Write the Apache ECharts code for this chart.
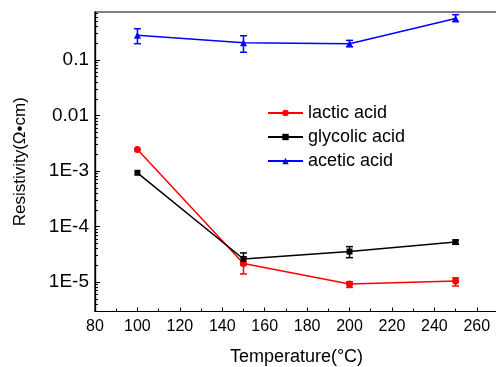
<!DOCTYPE html>
<html>
<head>
<meta charset="utf-8">
<script src="https://cdn.jsdelivr.net/npm/echarts@6/dist/echarts.min.js"></script>
<style>
  html, body { margin: 0; padding: 0; background: #fff; }
  #chart { width: 496px; height: 367px; }
</style>
</head>
<body>
<div id="chart"></div>
<script>
// temperatures (°C)
const temps = [100, 150, 200, 250]
const xTicks = [80, 100, 120, 140, 160, 180, 200, 220, 240, 260]
const xMinor = [90, 110, 130, 150, 170, 190, 210, 230, 250]

// resistivity (Ω·cm) and error bar ends
const lactic = [2.45e-3, 2.17e-5, 9.2e-6, 1.05e-5]
const lacticLow = [null, 1.4e-5, 8.0e-6, 8.5e-6]
const lacticHigh = [null, 2.85e-5, 1.01e-5, 1.19e-5]

const glycolic = [9.3e-4, 2.6e-5, 3.55e-5, 5.25e-5]
const glycolicLow = [null, 2.05e-5, 2.75e-5, 4.8e-5]
const glycolicHigh = [null, 3.35e-5, 4.35e-5, 5.7e-5]

const acetic = [0.28, 0.205, 0.197, 0.56]
const aceticLow = [0.197, 0.138, 0.174, 0.49]
const aceticHigh = [0.366, 0.274, 0.226, 0.655]

const yMajor = [1e-5, 1e-4, 1e-3, 0.01, 0.1]
const yLabels = ['1E-5', '1E-4', '1E-3', '0.01', '0.1']

// log minor ticks 2..9 x 10^k
const yMinor = []
for (let k = -6; k <= -1; k++) {
  for (let m = 2; m <= 9; m++) {
    const v = Number((m * Math.pow(10, k)).toPrecision(3))
    if (v > 2.95e-6 && v < 0.733) yMinor.push(v)
  }
}

const FONT = 'Liberation Sans'
const Y_MIN = 2.95e-6
const Y_MAX = 0.733

function pts(vals) {
  return temps.map((t, i) => [t, vals[i]])
}

function errData(low, high) {
  const out = []
  temps.forEach((t, i) => {
    if (low[i] != null) out.push([t, low[i], high[i]])
  })
  return out
}

function errSeries(low, high, color) {
  return {
    type: 'custom',
    z: 3,
    silent: true,
    data: errData(low, high),
    encode: { x: 0, y: [1, 2] },
    renderItem(params, api) {
      const lo = api.coord([api.value(0), api.value(1)])
      const hi = api.coord([api.value(0), api.value(2)])
      const w = 3.5
      const style = { stroke: color, lineWidth: 1.5 }
      return {
        type: 'group',
        children: [
          { type: 'line', shape: { x1: lo[0], y1: lo[1], x2: hi[0], y2: hi[1] }, style },
          { type: 'line', shape: { x1: lo[0] - w, y1: lo[1], x2: lo[0] + w, y2: lo[1] }, style },
          { type: 'line', shape: { x1: hi[0] - w, y1: hi[1], x2: hi[0] + w, y2: hi[1] }, style },
        ],
      }
    },
  }
}

const chart = echarts.init(document.getElementById('chart'))

const axisBlack = { lineStyle: { color: '#000', width: 1.2 } }

const option = {
  animation: false,
  textStyle: { fontFamily: FONT },
  grid: {
    left: 95,
    top: 12,
    width: 403,
    height: 299.5,
    outerBoundsMode: 'none',
    containLabel: false,
    show: true,
    borderColor: '#000',
    borderWidth: 1.2,
  },
  legend: {
    orient: 'vertical',
    left: 267,
    top: 104,
    padding: 0,
    itemWidth: 35,
    itemHeight: 8,
    itemGap: 6,
    textStyle: { fontFamily: FONT, fontSize: 18, color: '#000' },
    data: ['lactic acid', 'glycolic acid', 'acetic acid'],
  },
  xAxis: [
    {
      type: 'value',
      min: 80,
      max: 270,
      name: 'Temperature(°C)',
      nameLocation: 'middle',
      nameGap: 37,
      nameTextStyle: { fontFamily: FONT, fontSize: 18, color: '#000' },
      axisLine: axisBlack,
      axisTick: { inside: true, length: 4, customValues: xTicks, lineStyle: { color: '#000' } },
      axisLabel: {
        fontFamily: FONT,
        fontSize: 16,
        color: '#000',
        margin: 7,
        customValues: xTicks,
      },
      splitLine: { show: false },
    },
    {
      type: 'value',
      min: 80,
      max: 270,
      position: 'bottom',
      axisLine: axisBlack,
      axisTick: { inside: true, length: 3, customValues: xMinor, lineStyle: { color: '#000' } },
      axisLabel: { show: false },
      splitLine: { show: false },
    },
  ],
  yAxis: [
    {
      type: 'log',
      min: Y_MIN,
      max: Y_MAX,
      name: 'Resistivity(Ω•cm)',
      nameLocation: 'middle',
      nameGap: 66,
      nameTextStyle: { fontFamily: FONT, fontSize: 17, color: '#000' },
      axisLine: axisBlack,
      axisTick: { inside: true, length: 5, customValues: yMajor, lineStyle: { color: '#000' } },
      axisLabel: {
        fontFamily: FONT,
        fontSize: 19,
        color: '#000',
        margin: 6,
        customValues: yMajor,
        formatter: (v) => {
          const i = yMajor.findIndex((m) => Math.abs(Math.log10(m) - Math.log10(v)) < 1e-6)
          return i >= 0 ? yLabels[i] : ''
        },
      },
      splitLine: { show: false },
    },
    {
      type: 'log',
      min: Y_MIN,
      max: Y_MAX,
      position: 'left',
      axisLine: axisBlack,
      axisTick: { inside: true, length: 3, customValues: yMinor, lineStyle: { color: '#000' } },
      axisLabel: { show: false },
      splitLine: { show: false },
    },
  ],
  series: [
    {
      name: 'lactic acid',
      type: 'line',
      data: pts(lactic),
      color: '#ff0000',
      symbol: 'circle',
      symbolSize: 7,
      lineStyle: { width: 1.5 },
      z: 4,
    },
    {
      name: 'glycolic acid',
      type: 'line',
      data: pts(glycolic),
      color: '#000000',
      symbol: 'rect',
      symbolSize: 6,
      lineStyle: { width: 1.5 },
      z: 4,
    },
    {
      name: 'acetic acid',
      type: 'line',
      data: pts(acetic),
      color: '#0000ff',
      symbol: 'triangle',
      symbolSize: 7,
      lineStyle: { width: 1.5 },
      z: 4,
    },
    errSeries(lacticLow, lacticHigh, '#ff0000'),
    errSeries(glycolicLow, glycolicHigh, '#000000'),
    errSeries(aceticLow, aceticHigh, '#0000ff'),
  ],
}

chart.setOption(option)
</script>
</body>
</html>
